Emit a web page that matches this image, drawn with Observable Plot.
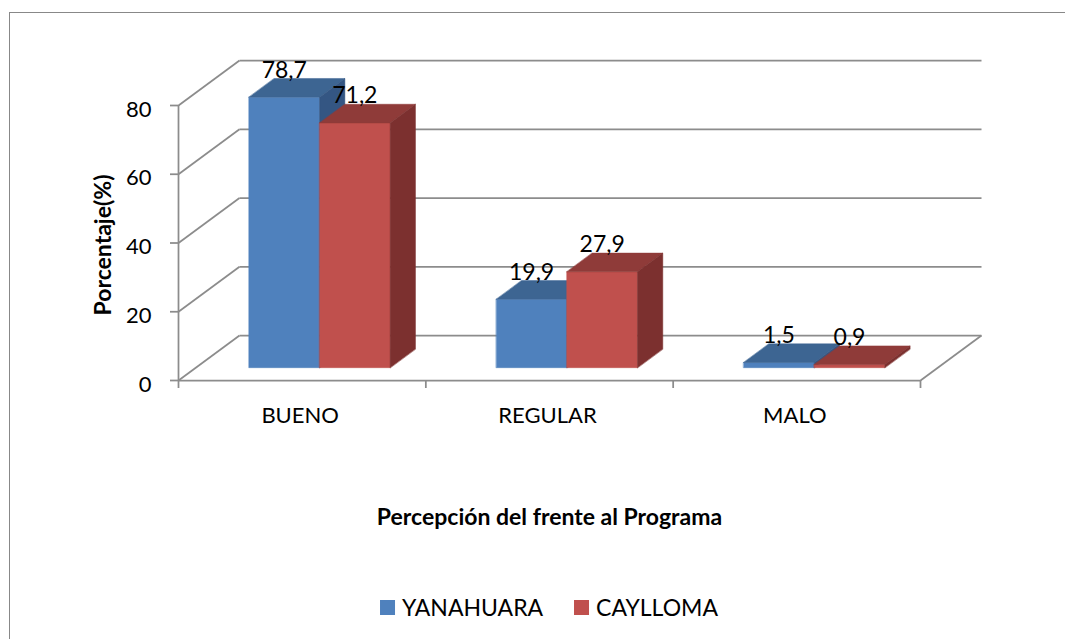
<!DOCTYPE html>
<html>
<head>
<meta charset="utf-8">
<script src="https://cdn.jsdelivr.net/npm/d3@7"></script>
<script src="https://cdn.jsdelivr.net/npm/@observablehq/plot@0.6"></script>
<style>
html, body { margin: 0; padding: 0; background: #fff; overflow: hidden; }
#wrap { position: relative; width: 1065px; height: 639px; font-family: Lato, "Open Sans", sans-serif; }
#frame { position: absolute; left: 9px; top: 12px; width: 1200px; height: 800px; border-left: 1.5px solid #888; border-top: 1.5px solid #888; box-sizing: border-box; pointer-events: none; }
#chart { position: absolute; left: 0; top: 0; }
#legend { position: absolute; left: 549px; top: 575px; height: 64px; transform: translateX(-50%); display: flex; align-items: center; font-size: 23px; color: #000; white-space: nowrap; }
.item { display: flex; align-items: center; }
.sw { width: 15px; height: 15px; margin-right: 7px; }
</style>
</head>
<body>
<div id="wrap">
  <div id="chart"></div>
  <div id="legend"></div>
  <div id="frame"></div>
</div>
<script>
// ---- data ----
const categories = ["BUENO", "REGULAR", "MALO"];
const series = ["YANAHUARA", "CAYLLOMA"];
const yanahuara = [78.7, 19.9, 1.5];
const caylloma = [71.2, 27.9, 0.9];
const yTicks = [0, 20, 40, 60, 80];
const xTitle = "Percepción del frente al Programa";
const yTitle = "Porcentaje(%)";

// ---- styles ----
const faceColors = [
  {front: "#4F81BD", top: "#3D6592", side: "#345683"},
  {front: "#C0504D", top: "#8F3B39", side: "#7C302F"}
];
const gridColor = "#8C8C8C";
const W = 1065, H = 575, mL = 178, mR = 145, mT = 105, mB = H - 380;
const unitX = (W - mL - mR) / categories.length;
const unitY = (H - mT - mB) / 80;
const DX = 61 / unitX, DY = 45 / unitY;   // depth of the 3D box, in data units
const zf = 0.285, zb = 0.70;              // bar front/back depth
const barSpan = [[0.2146, 0.5], [0.5, 0.7854]];
const P = (x, v, z) => ({x: x + z * DX, y: v + z * DY});

const values = [yanahuara, caylloma];
const polys = [];
const labels = [];
categories.forEach((c, i) => {
  values.forEach((vals, s) => {
    const v = vals[i];
    const xl = i + barSpan[s][0], xr = i + barSpan[s][1];
    const col = faceColors[s];
    const add = (name, fill, pts) => pts.forEach(p => polys.push({id: `${c}-${s}-${name}`, fill, ...p}));
    add("front", col.front, [P(xl, 0, zf), P(xr, 0, zf), P(xr, v, zf), P(xl, v, zf)]);
    add("top", col.top, [P(xl, v, zf), P(xr, v, zf), P(xr, v, zb), P(xl, v, zb)]);
    add("side", col.side, [P(xr, 0, zf), P(xr, v, zf), P(xr, v, zb), P(xr, 0, zb)]);
    const lp = P((xl + xr) / 2, v, zf);
    labels.push({x: lp.x, y: lp.y, text: d3.format(".1f")(v).replace(".", ",")});
  });
});

const n = categories.length;
const backGrid = yTicks.map(v => ({x1: DX, y1: v + DY, x2: n + DX, y2: v + DY}));
const sideGrid = yTicks.map(v => ({x1: 0, y1: v, x2: DX, y2: v + DY}));
const floorRight = [{x1: n, y1: 0, x2: n + DX, y2: DY}];

const chart = Plot.plot({
  width: W, height: H,
  marginLeft: mL, marginRight: mR, marginTop: mT, marginBottom: mB,
  style: {fontFamily: "Lato, 'Open Sans', sans-serif", fontSize: "22px", color: "#000", background: "transparent", overflow: "visible"},
  x: {type: "linear", domain: [0, n]},
  y: {type: "linear", domain: [0, 80]},
  color: {type: "identity"},
  marks: [
    Plot.link(backGrid, {x1: "x1", y1: "y1", x2: "x2", y2: "y2", stroke: gridColor, strokeWidth: 1.75}),
    Plot.link(sideGrid, {x1: "x1", y1: "y1", x2: "x2", y2: "y2", stroke: gridColor, strokeWidth: 1.75}),
    Plot.link(floorRight, {x1: "x1", y1: "y1", x2: "x2", y2: "y2", stroke: gridColor, strokeWidth: 1.75}),
    Plot.ruleX([0], {y1: 0, y2: 80, stroke: gridColor, strokeWidth: 1.75}),
    Plot.ruleY([0], {x1: 0, x2: n, stroke: gridColor, strokeWidth: 1.75}),
    Plot.axisY(yTicks, {tickSize: 8, tickPadding: 19, stroke: gridColor, strokeWidth: 1.75, text: null}),
    Plot.axisY(yTicks, {tickSize: 0, tickPadding: 27, fill: "#000", fontSize: 22, dy: 4, tickFormat: d => String(d)}),
    Plot.axisX(d3.range(n + 1), {tickSize: 8, stroke: gridColor, strokeWidth: 1.75, tickFormat: () => ""}),
    Plot.axisX(categories.map((c, i) => i + 0.5), {tickSize: 0, tickPadding: 27, fill: "#000", fontSize: 22, dx: -2, tickFormat: d => categories[Math.floor(d)]}),
    Plot.line(polys, {x: "x", y: "y", z: "id", fill: "fill", stroke: "fill", strokeWidth: 0.5, curve: "linear-closed"}),
    Plot.text(labels, {x: "x", y: "y", text: "text", dy: -27, fontSize: 23, fill: "#000", lineAnchor: "middle"}),
    Plot.text([yTitle], {frameAnchor: "left", dx: -75, dy: 2, rotate: -90, textAnchor: "middle", fontWeight: "bold", fontSize: 23, fill: "#000", lineAnchor: "middle"}),
    Plot.text([xTitle], {frameAnchor: "bottom", dy: 137, textAnchor: "middle", fontWeight: "bold", fontSize: 23, fill: "#000", lineAnchor: "middle"})
  ]
});
document.getElementById("chart").appendChild(chart);

const legend = document.getElementById("legend");
series.forEach((s, k) => {
  const it = document.createElement("div");
  it.className = "item";
  if (k > 0) it.style.marginLeft = "31px";
  const sw = document.createElement("div");
  sw.className = "sw";
  sw.style.background = faceColors[k].front;
  const t = document.createElement("span");
  t.textContent = s;
  it.appendChild(sw); it.appendChild(t);
  legend.appendChild(it);
});
</script>
</body>
</html>
